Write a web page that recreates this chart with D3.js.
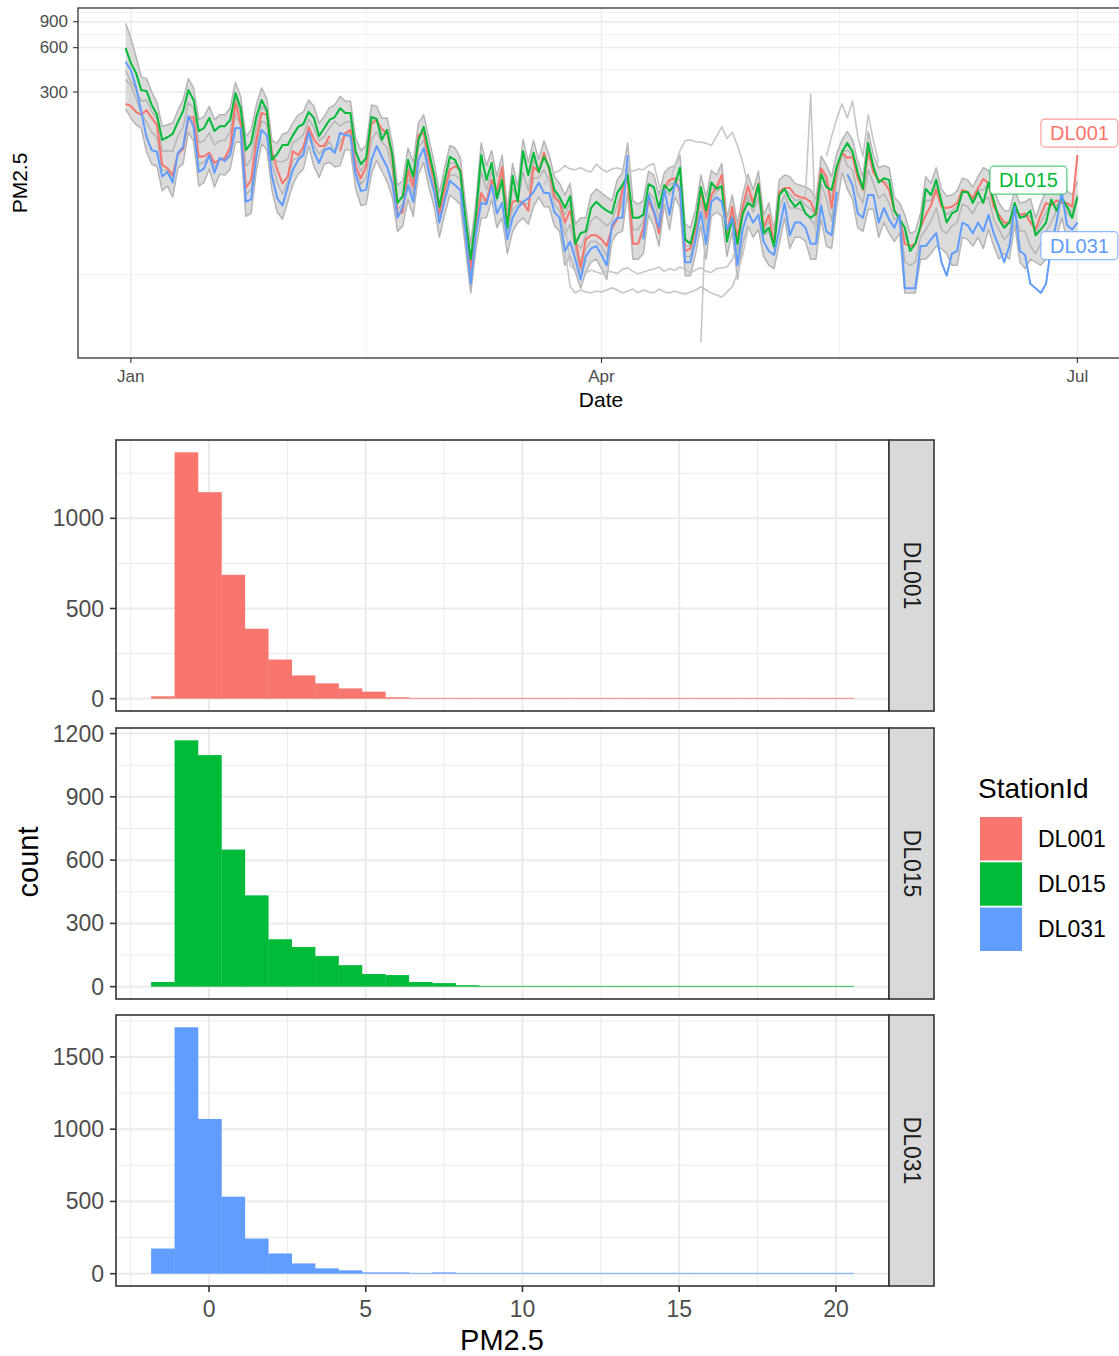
<!DOCTYPE html>
<html>
<head>
<meta charset="utf-8">
<script src="https://cdn.jsdelivr.net/npm/d3@7"></script>
<style>
  body { margin: 0; background: #fff; }
  svg { display: block; font-family: "Liberation Sans", Arial, Helvetica, sans-serif; }
</style>
</head>
<body>
<svg id="chart" width="1119" height="1356"></svg>
<script>
// ---- data ----
const stations = ["DL001", "DL015", "DL031"];
const stationColors = ["#F8766D", "#00BA38", "#619CFF"];

// daily PM2.5, 2017-12-31 .. 2018-07-01 (183 days)
const dl001Daily = [249,241,220,210,226,200,179,96,91,82,
  114,123,200,203,109,110,116,99,104,107,
  127,253,185,67,76,142,216,210,116,89,
  72,80,119,112,127,174,144,129,129,151,
  null,119,158,166,94,78,94,182,194,168,
  158,107,44,46,89,68,153,158,104,76,
  45,65,89,94,89,39,19,36,62,54,
  76,65,93,39,54,55,53,47,93,86,
  116,89,58,53,39,47,30,19.5,30,32,
  32,30,27,36,41,65,78,28,28,36,
  55,46,33,67,76,78,63,25,26,36,
  65,42,60,68,82,33,50,31,50,69,
  53,72,36,44,28,63,67,67,60,58,
  57,54,44,91,80,49,91,116,107,109,
  78,65,118,85,76,73,65,47,42,28,
  27,28,36,44,51,65,50,49,50,53,
  65,63,57,67,77,72,50,44,39,39,
  47,44,45,39,35,44,53,51,55,53,
  53,50,112];

const dl015Daily = [596,472,404,309,305,245,210,142,148,156,
  188,222,309,265,163,171,200,163,176,176,
  194,295,233,121,135,203,265,226,104,114,
  131,131,153,174,182,220,200,151,171,194,
  203,233,216,216,118,97,107,203,197,142,
  166,112,53,59,104,80,142,174,118,82,
  50,76,109,104,86,41,22,44,112,76,
  99,57,76,36,81,54,119,82,116,86,
  109,92,65,58,49,59,28,33,34,49,
  54,50,47,45,62,70,82,42,42,44,
  71,68,49,70,64,70,92,30,28,39,
  68,47,73,66,69,29,42,28,45,53,
  50,71,33,36,27,60,66,56,50,54,
  45,42,45,83,68,65,94,118,135,118,
  85,66,135,93,73,78,76,47,41,36,
  25,28,37,66,60,76,54,39,45,47,
  63,63,53,63,53,73,55,41,36,39,
  53,42,43,47,32,35,39,56,47,58,
  50,42,58];

const dl031Daily = [480,423,324,220,148,121,118,80,86,73,
  116,127,206,174,86,91,112,85,107,102,
  112,171,171,54,56,109,166,153,80,57,
  51,68,89,104,112,161,118,99,121,125,
  116,158,153,151,82,64,65,104,129,109,
  93,72,42,50,70,54,104,125,85,63,
  39,55,75,70,65,33,15,33,53,52,
  70,45,53,30,42,49,54,57,63,73,
  62,62,46,42,25,29,22,16,23,26,
  27,23.5,20,37.5,42,42,112,null,null,30,
  60,47,36,65,44,72,67,21,21,30,
  46,28,54,58,54,35,42,20,35,46,
  39,44,29,25,23.5,35,53,32,39,39,
  36,28,28,51,34,32,63,null,83,70,
  45,42,60,60,39,49,41,36,44,14,
  14,14,27,27,30,33,21,17,24,25,
  39,37.5,33,39,34,44,33,27,21,27,
  50,25,23.5,15,14,13,15,27,39,63,
  37.5,35,39];

// other stations (grey background lines), same days
const otherHigh = [880,700,520,380,370,300,255,175,180,185,
  225,265,370,320,195,205,240,195,210,210,
  235,350,280,150,165,245,320,270,140,135,
  155,160,185,210,220,265,240,185,205,235,
  245,280,260,260,145,120,130,245,240,200,
  200,135,70,75,125,100,185,210,145,100,
  62,92,130,125,108,52,28,55,135,95,
  120,80,112,48,98,68,143,100,140,105,
  140,112,80,72,60,72,38,42,42,60,
  66,62,58,55,76,85,135,55,52,55,
  87,82,60,85,92,95,112,38,36,48,
  82,58,88,82,98,42,60,38,60,83,
  65,87,44,53,35,76,82,80,72,70,
  68,65,56,110,96,80,115,142,162,142,
  102,80,162,112,92,95,92,58,53,44,
  33,34,45,80,72,92,66,59,60,64,
  78,76,68,80,92,88,66,53,47,47,
  64,53,54,57,42,53,64,67,66,76,
  64,60,75];

const otherUpperMid = [420,355,310,260,265,222,195,119,120,119,
  151,172,255,234,136,140,158,131,140,141,
  160,274,209,94,105,172,240,218,110,101,
  101,105,136,143,154,197,172,140,150,172,
  190,176,187,191,106,87,100,192,195,155,
  162,109,48,52,96,74,147,166,111,79,
  47,70,99,99,87,40,20,40,87,65,
  87,61,84,37,67,54,86,64,104,86,
  112,90,61,55,44,53,29,26,32,40,
  43,40,37,40,51,67,80,35,35,40,
  63,57,41,68,70,74,77,27,27,37,
  66,44,66,67,75,31,46,29,47,61,
  51,71,34,40,27,61,66,61,55,56,
  51,48,44,87,74,57,92,117,121,113,
  81,65,126,89,74,75,70,47,41,32,
  26,28,36,55,55,70,52,44,47,50,
  64,63,55,65,65,72,52,42,37,39,
  50,43,44,43,33,39,46,53,51,55,
  51,46,60];

const otherLowerMid = [365,332,272,215,187,160,148,88,88,77,
  115,125,203,188,97,100,114,92,105,104,
  119,212,178,60,66,125,191,181,98,73,
  61,74,104,108,119,167,131,114,125,138,
  116,138,155,158,88,71,79,143,161,138,
  125,89,43,48,79,61,128,141,94,69,
  42,60,82,82,77,36,17,34,57,53,
  73,55,73,34,48,52,53,52,78,79,
  89,75,52,47,32,38,26,18,26,29,
  29,27,23,37,41,53,95,28,28,33,
  57,46,34,66,60,75,65,23,23,33,
  55,35,57,63,68,34,46,25,42,57,
  46,58,32,34,26,49,60,49,49,48,
  46,41,36,71,57,40,77,116,95,89,
  61,53,89,72,57,61,53,41,43,21,
  20,21,31,35,40,49,35,33,37,39,
  52,50,45,53,55,58,41,35,30,33,
  48,34,34,27,24,28,34,39,47,58,
  45,42,60];

const otherLow = [230,200,180,170,118,97,94,64,69,58,
  91,98,160,139,69,73,90,68,83,82,
  90,137,137,43,45,87,133,122,64,46,
  41,54,71,83,90,129,94,79,97,100,
  93,95,122,121,66,51,52,83,103,87,
  74,58,34,37,56,43,83,100,68,50,
  31,44,60,56,52,26,13,26,42,42,
  56,36,42,24,34,39,42,38,50,58,
  50,50,37,34,20,23,18,14,18,21,
  22,19,16,29,33,34,62,22,22,24,
  44,37,27,52,35,58,50,17,17,24,
  37,22,43,46,43,23,34,16,28,37,
  31,35,23,20,19,28,42,26,31,31,
  29,22,22,41,27,26,50,85,66,56,
  36,34,48,48,31,39,33,29,33,13,
  13,13,22,22,24,27,26,24,20,20,
  31,30,27,31,26,35,27,22,24,22,
  38,21,19,22,21,20,22,22,31,42,
  30,28,31];

// partial grey stations: first day index + values
const otherFlatA = { from: 83, values: [40,26,14.3,13,13.6,13.2,13,13.4,13.2,13.6,14.1,13.6,13,13.4,13.8,13,13.6,13.2,13,13.8,13.2,13,13.4,13,12.8,13.2,13.6,14.3,13.6,13,12.6,12.2,13.2,14.3,17.7,23.5,35] };
const otherFlatB = { from: 84, values: [40,20,18.5,18,17.7,18.6,18,17.5,18.3,18,17.6,18.8,19.2,18.2,17.5,18,18.5,18.8,19.5,18.2,19,18.5,19.5,18.8,17.7,18.6,19.3,18.2,17.9,19,19.2,19.5,22,28,35] };
const otherAprA = { from: 80, values: [70,80,85,88,95,90,89,92,88,86,97,90,86,90,92,89,88,87,90,89,95,98,70,60] };
const otherAprB = { from: 104, values: [70,95,120,140,142,138,137,135,130,150,174,145,160,130,100,70,55] };
const otherDip = { from: 110, values: [6,48,70,60] };
const otherSpike = { from: 129, values: [55,60,290,30,60] };
const otherMay = { from: 134, values: [110,150,200,250,200,260,150,110,210,140,100] };

const yTicksTop = [300, 600, 900];
const yMinorTop = [17.3, 424, 735, 1039];
const monthTicks = ["2018-01-01", "2018-04-01", "2018-07-01"];
const monthLabels = ["Jan", "Apr", "Jul"];

// histograms: 30 bins
const binStart = -1.847, binWidth = 0.7473;
const countsDL001 = [13,1366,1145,687,388,217,129,85,57,39,8,3,1,1,1,1,1,1,1,1,1,1,1,1,1,1,1,1,1,1];
const countsDL015 = [22,1168,1098,650,433,225,188,145,102,60,55,22,17,7,2,1,1,1,1,1,1,1,1,1,1,1,1,1,1,1];
const countsDL031 = [174,1705,1071,533,243,140,71,37,23,9,9,5,9,4,3,3,3,2,2,2,2,2,2,2,1,1,1,1,1,1];
const histTicks = [[0, 500, 1000], [0, 300, 600, 900, 1200], [0, 500, 1000, 1500]];
const histXTicks = [0, 5, 10, 15, 20];

// ---- drawing ----
const svg = d3.select("#chart");
const grid = "#ebebeb", frame = "#333333", tickText = "#4d4d4d";

// ===== top: time series =====
const dates = d3.utcDays(new Date(Date.UTC(2017, 11, 31)), new Date(Date.UTC(2018, 6, 2)));
const tb = { left: 78, right: 1125, top: 8, bottom: 358 };
const [d0, d1] = d3.extent(dates);
const span = d1 - d0;
const x = d3.scaleUtc()
  .domain([new Date(+d0 - 0.05 * span), new Date(+d1 + 0.05 * span)])
  .range([tb.left, tb.right]);
const y = d3.scaleLog().domain([4.7, 1115]).range([tb.bottom, tb.top]);

const topG = svg.append("g");
const monthDates = monthTicks.map(d => new Date(d + "T00:00:00Z"));
const monthMinor = d3.pairs(monthDates).map(([a, b]) => new Date((+a + +b) / 2));

topG.selectAll("line.ymin").data(yMinorTop).enter().append("line")
  .attr("x1", tb.left).attr("x2", tb.right)
  .attr("y1", d => y(d)).attr("y2", d => y(d))
  .attr("stroke", grid).attr("stroke-width", 0.7);
topG.selectAll("line.xmin").data(monthMinor).enter().append("line")
  .attr("y1", tb.top).attr("y2", tb.bottom)
  .attr("x1", d => x(d)).attr("x2", d => x(d))
  .attr("stroke", grid).attr("stroke-width", 0.7);
topG.selectAll("line.ymaj").data(yTicksTop).enter().append("line")
  .attr("x1", tb.left).attr("x2", tb.right)
  .attr("y1", d => y(d)).attr("y2", d => y(d))
  .attr("stroke", grid).attr("stroke-width", 1.4);
topG.selectAll("line.xmaj").data(monthDates).enter().append("line")
  .attr("y1", tb.top).attr("y2", tb.bottom)
  .attr("x1", d => x(d)).attr("x2", d => x(d))
  .attr("stroke", grid).attr("stroke-width", 1.4);

const line = d3.line()
  .defined(d => d.v != null)
  .x(d => x(d.date))
  .y(d => y(d.v));

function fullSeries(arr) { return arr.map((v, i) => ({ date: dates[i], v })); }
function partSeries(p) { return p.values.map((v, j) => ({ date: dates[p.from + j], v })); }

// the many other stations overlap into a dense grey band
const band = d3.area()
  .x((d, i) => x(dates[i]))
  .y0(d => y(d[0]))
  .y1(d => y(d[1]));
topG.append("path")
  .datum(otherLow.map((v, i) => [v, otherHigh[i]]))
  .attr("d", band)
  .attr("fill", "#cfcfcf")
  .attr("fill-opacity", 0.75);

const greyFull = [otherHigh, otherUpperMid, otherLowerMid, otherLow].map(fullSeries);
const greyPart = [otherFlatA, otherFlatB, otherAprA, otherAprB, otherDip, otherSpike, otherMay].map(partSeries);

topG.selectAll("path.greyFull").data(greyFull).enter().append("path")
  .attr("d", line)
  .attr("fill", "none")
  .attr("stroke", "#b5b5b5")
  .attr("stroke-width", 1.5)
  .attr("stroke-linejoin", "round");
topG.selectAll("path.greyPart").data(greyPart).enter().append("path")
  .attr("d", line)
  .attr("fill", "none")
  .attr("stroke", "#c6c6c6")
  .attr("stroke-width", 1.6)
  .attr("stroke-linejoin", "round");

const mainSeries = [dl001Daily, dl015Daily, dl031Daily].map(fullSeries);
topG.selectAll("path.main").data(mainSeries).enter().append("path")
  .attr("d", line)
  .attr("fill", "none")
  .attr("stroke", (d, i) => stationColors[i])
  .attr("stroke-width", 2)
  .attr("stroke-linejoin", "round");

// end labels (repelled boxes)
const labelNudge = [[2, -22], [-49, -17], [2, 23]];
mainSeries.forEach((s, i) => {
  const last = s[s.length - 1];
  const cx = x(last.date) + labelNudge[i][0];
  const cy = y(last.v) + labelNudge[i][1];
  const g = topG.append("g");
  const rect = g.append("rect");
  const t = g.append("text")
    .attr("x", cx).attr("y", cy)
    .attr("text-anchor", "middle").attr("dominant-baseline", "central")
    .attr("font-size", 20).attr("fill", stationColors[i])
    .text(stations[i]);
  const w = t.node().getComputedTextLength() + 18;
  rect.attr("x", cx - w / 2).attr("y", cy - 14).attr("width", w).attr("height", 28)
    .attr("rx", 4).attr("fill", "#fff")
    .attr("stroke", stationColors[i]).attr("stroke-opacity", 0.7).attr("stroke-width", 1.2);
});

topG.append("rect")
  .attr("x", tb.left).attr("y", tb.top)
  .attr("width", tb.right - tb.left).attr("height", tb.bottom - tb.top)
  .attr("fill", "none").attr("stroke", frame).attr("stroke-width", 1.3);

// axes
topG.selectAll("line.yt").data(yTicksTop).enter().append("line")
  .attr("x1", tb.left - 5).attr("x2", tb.left)
  .attr("y1", d => y(d)).attr("y2", d => y(d))
  .attr("stroke", frame).attr("stroke-width", 1.1);
topG.selectAll("text.yt").data(yTicksTop).enter().append("text")
  .attr("x", tb.left - 10).attr("y", d => y(d))
  .attr("text-anchor", "end").attr("dominant-baseline", "central")
  .attr("font-size", 17).attr("fill", tickText)
  .text(d => d);
topG.selectAll("line.xt").data(monthDates).enter().append("line")
  .attr("y1", tb.bottom).attr("y2", tb.bottom + 5)
  .attr("x1", d => x(d)).attr("x2", d => x(d))
  .attr("stroke", frame).attr("stroke-width", 1.1);
topG.selectAll("text.xt").data(monthDates).enter().append("text")
  .attr("x", d => x(d)).attr("y", tb.bottom + 24)
  .attr("text-anchor", "middle")
  .attr("font-size", 17).attr("fill", tickText)
  .text((d, i) => monthLabels[i]);
topG.append("text")
  .attr("x", 601).attr("y", 407)
  .attr("text-anchor", "middle").attr("font-size", 21).attr("fill", "#000")
  .text("Date");
topG.append("text")
  .attr("transform", "translate(27,183) rotate(-90)")
  .attr("text-anchor", "middle").attr("font-size", 21).attr("fill", "#000")
  .text("PM2.5");

// ===== bottom: faceted histograms =====
const hb = { left: 116, right: 889 };
const panels = [
  { top: 440, bottom: 711, counts: countsDL001 },
  { top: 728, bottom: 999, counts: countsDL015 },
  { top: 1015, bottom: 1286, counts: countsDL031 }
];
const binEdges = d3.range(countsDL001.length + 1).map(k => binStart + k * binWidth);
const xRange = [binEdges[0], binEdges[binEdges.length - 1]];
const xPad = 0.05 * (xRange[1] - xRange[0]);
const xh = d3.scaleLinear().domain([xRange[0] - xPad, xRange[1] + xPad]).range([hb.left, hb.right]);
const xMinorH = d3.pairs([-5].concat(histXTicks)).map(([a, b]) => (a + b) / 2)
  .filter(v => v > xh.domain()[0]);

panels.forEach((p, k) => {
  const g = svg.append("g");
  const maxC = d3.max(p.counts);
  const yh = d3.scaleLinear().domain([-0.05 * maxC, 1.05 * maxC]).range([p.bottom, p.top]);
  const ticks = histTicks[k];
  const step = ticks[1] - ticks[0];
  const minor = ticks.map(t => t + step / 2).filter(v => v < yh.domain()[1]);

  g.selectAll("line.ym").data(minor).enter().append("line")
    .attr("x1", hb.left).attr("x2", hb.right)
    .attr("y1", d => yh(d)).attr("y2", d => yh(d))
    .attr("stroke", grid).attr("stroke-width", 1);
  g.selectAll("line.xm").data(xMinorH).enter().append("line")
    .attr("y1", p.top).attr("y2", p.bottom)
    .attr("x1", d => xh(d)).attr("x2", d => xh(d))
    .attr("stroke", grid).attr("stroke-width", 1);
  g.selectAll("line.yM").data(ticks).enter().append("line")
    .attr("x1", hb.left).attr("x2", hb.right)
    .attr("y1", d => yh(d)).attr("y2", d => yh(d))
    .attr("stroke", grid).attr("stroke-width", 2);
  g.selectAll("line.xM").data(histXTicks).enter().append("line")
    .attr("y1", p.top).attr("y2", p.bottom)
    .attr("x1", d => xh(d)).attr("x2", d => xh(d))
    .attr("stroke", grid).attr("stroke-width", 2);

  g.selectAll("rect.bar").data(p.counts).enter().append("rect")
    .attr("x", (d, i) => xh(binEdges[i]))
    .attr("width", (d, i) => xh(binEdges[i + 1]) - xh(binEdges[i]) + 0.3)
    .attr("y", d => Math.min(yh(d), yh(0) - 0.8))
    .attr("height", d => Math.max(yh(0) - yh(d), 0.8))
    .attr("fill", stationColors[k]);

  g.append("rect")
    .attr("x", hb.left).attr("y", p.top)
    .attr("width", hb.right - hb.left).attr("height", p.bottom - p.top)
    .attr("fill", "none").attr("stroke", frame).attr("stroke-width", 1.6);

  // strip
  g.append("rect")
    .attr("x", hb.right).attr("y", p.top)
    .attr("width", 45).attr("height", p.bottom - p.top)
    .attr("fill", "#d9d9d9").attr("stroke", frame).attr("stroke-width", 1.6);
  g.append("text")
    .attr("transform", `translate(${hb.right + 22.5},${(p.top + p.bottom) / 2}) rotate(90)`)
    .attr("text-anchor", "middle").attr("dominant-baseline", "central")
    .attr("font-size", 23).attr("fill", "#1a1a1a")
    .text(stations[k]);

  g.selectAll("line.yt").data(ticks).enter().append("line")
    .attr("x1", hb.left - 6).attr("x2", hb.left)
    .attr("y1", d => yh(d)).attr("y2", d => yh(d))
    .attr("stroke", frame).attr("stroke-width", 1.6);
  g.selectAll("text.yt").data(ticks).enter().append("text")
    .attr("x", hb.left - 12).attr("y", d => yh(d))
    .attr("text-anchor", "end").attr("dominant-baseline", "central")
    .attr("font-size", 23).attr("fill", tickText)
    .text(d => d);

  if (k === panels.length - 1) {
    g.selectAll("line.xt").data(histXTicks).enter().append("line")
      .attr("y1", p.bottom).attr("y2", p.bottom + 6)
      .attr("x1", d => xh(d)).attr("x2", d => xh(d))
      .attr("stroke", frame).attr("stroke-width", 1.6);
    g.selectAll("text.xt").data(histXTicks).enter().append("text")
      .attr("x", d => xh(d)).attr("y", p.bottom + 31)
      .attr("text-anchor", "middle")
      .attr("font-size", 23).attr("fill", tickText)
      .text(d => d);
  }
});

svg.append("text")
  .attr("x", 502).attr("y", 1350)
  .attr("text-anchor", "middle").attr("font-size", 29).attr("fill", "#000")
  .text("PM2.5");
svg.append("text")
  .attr("transform", "translate(38,862) rotate(-90)")
  .attr("text-anchor", "middle").attr("font-size", 29).attr("fill", "#000")
  .text("count");

// legend
const legend = svg.append("g");
legend.append("text")
  .attr("x", 978).attr("y", 798)
  .attr("font-size", 28).attr("fill", "#000")
  .text("StationId");
const keyY = d3.scaleBand().domain(stations).range([817, 951]).paddingInner(0.04);
legend.selectAll("rect.key").data(stations).enter().append("rect")
  .attr("x", 980).attr("y", d => keyY(d))
  .attr("width", 42).attr("height", keyY.bandwidth())
  .attr("fill", (d, i) => stationColors[i]);
legend.selectAll("text.key").data(stations).enter().append("text")
  .attr("x", 1038).attr("y", d => keyY(d) + keyY.bandwidth() / 2)
  .attr("dominant-baseline", "central")
  .attr("font-size", 23).attr("fill", "#000")
  .text(d => d);
</script>
</body>
</html>
